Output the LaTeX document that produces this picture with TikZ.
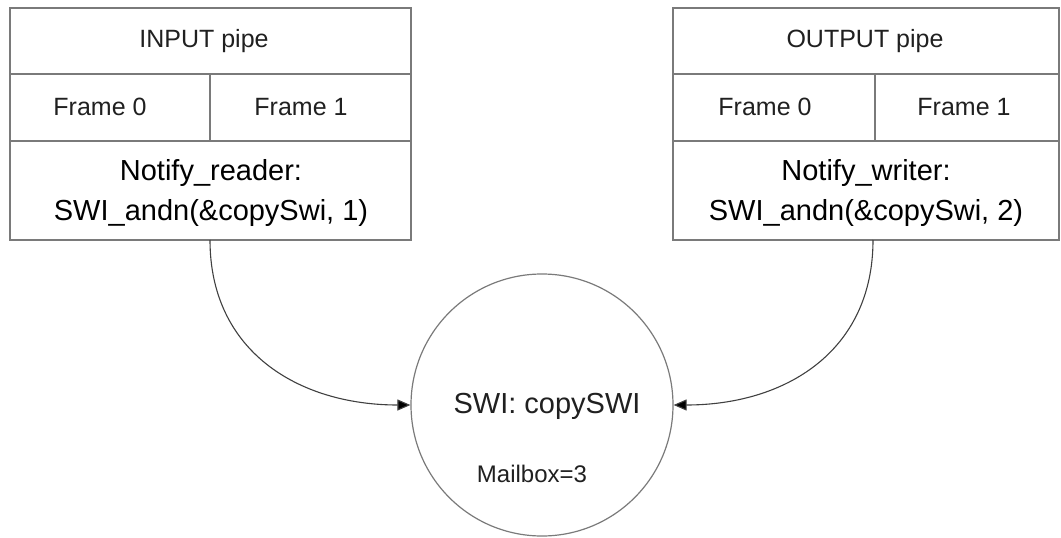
\documentclass[tikz,border=0pt]{standalone}
\usepackage{fontspec}
\setmainfont{Liberation Sans}
\usetikzlibrary{arrows.meta}
\definecolor{boxline}{HTML}{7A7A7A}
\definecolor{connline}{HTML}{404040}
\definecolor{txtgrey}{HTML}{202020}
\begin{document}
\begin{tikzpicture}[x=1pt,y=-1pt,
  cell/.style={draw=boxline,line width=1.3pt,inner sep=0pt},
  small/.style={font=\fontsize{25}{30}\selectfont,text=txtgrey,anchor=base,inner sep=0pt},
  big/.style={font=\fontsize{29}{40}\selectfont,text=black,anchor=base,inner sep=0pt},
  conn/.style={draw=connline,line width=1.1pt,-{Triangle[length=13pt,width=11pt,fill=black]}}]
\useasboundingbox (0,0) rectangle (1061,538);
% left box
\node[cell,minimum width=401pt,minimum height=66pt] (intitle) at (210.5,41) {};
\node[cell,minimum width=200pt,minimum height=67pt] (inf0) at (110,107.5) {};
\node[cell,minimum width=201pt,minimum height=67pt] (inf1) at (310.5,107.5) {};
\node[cell,minimum width=401pt,minimum height=99pt] (innote) at (210.5,190.5) {};
\node[small] (intitlet) at (204,47) {INPUT pipe};
\node[small] (inf0t) at (100,115) {Frame 0};
\node[small] (inf1t) at (301,115) {Frame 1};
\node[big] (innote1) at (211,180) {Notify\_reader:};
\node[big] (innote2) at (211,220) {SWI\_andn(\&copySwi, 1)};
% right box
\node[cell,minimum width=386pt,minimum height=66pt] (outtitle) at (866,41) {};
\node[cell,minimum width=202pt,minimum height=67pt] (outf0) at (774,107.5) {};
\node[cell,minimum width=184pt,minimum height=67pt] (outf1) at (967,107.5) {};
\node[cell,minimum width=386pt,minimum height=99pt] (outnote) at (866,190.5) {};
\node[small] (outtitlet) at (865,47) {OUTPUT pipe};
\node[small] (outf0t) at (765,115) {Frame 0};
\node[small] (outf1t) at (964,115) {Frame 1};
\node[big] (outnote1) at (866,180) {Notify\_writer:};
\node[big] (outnote2) at (866,220) {SWI\_andn(\&copySwi, 2)};
% SWI circle
\node[circle,draw=boxline,line width=1.2pt,minimum size=262pt,inner sep=0pt] (swi) at (542,405) {};
\node[font=\fontsize{29}{34}\selectfont,text=txtgrey,anchor=base,inner sep=0pt] (swit) at (547,413) {SWI: copySWI};
\node[font=\fontsize{24}{28}\selectfont,text=txtgrey,anchor=base,inner sep=0pt] (mbox) at (532,482) {Mailbox=3};
% connectors
\coordinate (instart) at (210,240);
\coordinate (outstart) at (873,240);
\draw[conn] (instart) to[out=-90,in=180,looseness=1.1] (swi.west);
\draw[conn] (outstart) to[out=-90,in=0,looseness=1.1] (swi.east);
\end{tikzpicture}
\end{document}
